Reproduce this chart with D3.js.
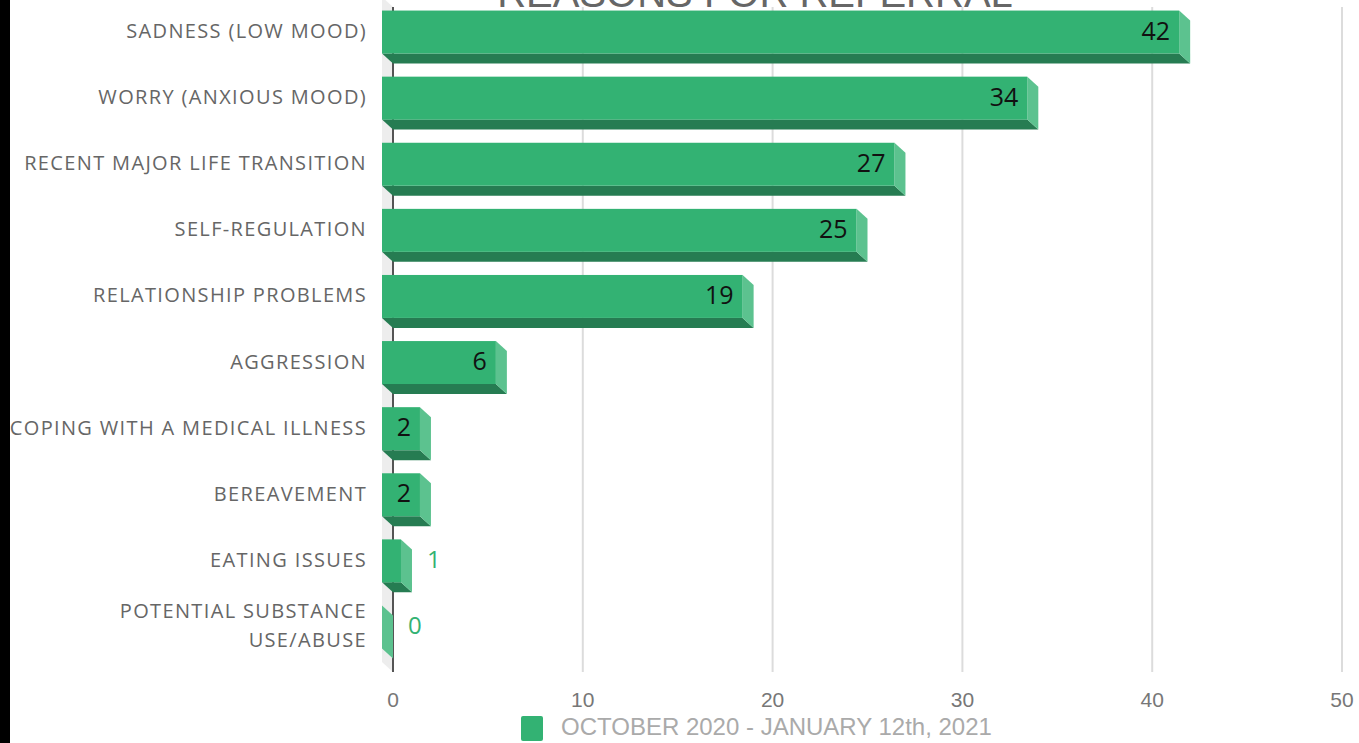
<!DOCTYPE html>
<html><head><meta charset="utf-8">
<script src="https://cdn.jsdelivr.net/npm/d3@7"></script>
<style>html,body{margin:0;padding:0;background:#fff;overflow:hidden}</style>
</head><body>
<svg id="chart" width="1359" height="743"></svg>
<script>
const categories = ["SADNESS (LOW MOOD)","WORRY (ANXIOUS MOOD)","RECENT MAJOR LIFE TRANSITION","SELF-REGULATION","RELATIONSHIP PROBLEMS","AGGRESSION","COPING WITH A MEDICAL ILLNESS","BEREAVEMENT","EATING ISSUES","POTENTIAL SUBSTANCE USE/ABUSE"];
const values = [42,34,27,25,19,6,2,2,1,0];
const xTicks = [0,10,20,30,40,50];
const seriesName = "OCTOBER 2020 - JANUARY 12th, 2021";
const title = "REASONS FOR REFERRAL";

const svg = d3.select("#chart");
const W = 1359, H = 743;
const DX = 11, DY = 10;
const cFront = "#33b273", cBottom = "#267c52", cSide = "#5cc28f";

svg.append("rect").attr("x",0).attr("y",0).attr("width",10).attr("height",H).attr("fill","#000");

const x = d3.scaleLinear().domain([0,50]).range([393,1342]);
const y = d3.scaleBand().domain(categories).range([7,672]).paddingInner(0.35).paddingOuter(0.205);
const top0 = 7, bot0 = 672;

// wall
svg.append("polygon")
  .attr("points",[[x(0),top0],[x(0),bot0],[x(0)-DX,bot0-DY],[x(0)-DX,top0-DY]].map(p=>p.join(",")).join(" "))
  .attr("fill","#ededed");

// gridlines
svg.append("g").selectAll("line").data(xTicks.filter(d=>d>0)).join("line")
  .attr("x1",d=>x(d)).attr("x2",d=>x(d)).attr("y1",top0).attr("y2",bot0)
  .attr("stroke","#dcdcdc").attr("stroke-width",2);

// axis line
svg.append("line").attr("x1",x(0)).attr("x2",x(0)).attr("y1",top0).attr("y2",bot0)
  .attr("stroke","#555").attr("stroke-width",2);

// tick labels
svg.append("g").selectAll("text").data(xTicks).join("text")
  .attr("x",d=>x(d)).attr("y",701).attr("text-anchor","middle").attr("dominant-baseline","middle")
  .attr("font-family","Liberation Sans, Arial, sans-serif").attr("font-size",21).attr("fill","#777")
  .text(d=>d);

// bars
const g = svg.append("g");
categories.forEach((c,i)=>{
  const v = values[i];
  const bt = y(c), bb = y(c)+y.bandwidth();
  const ft = bt-DY, fb = bb-DY;
  const xl = x(0)-DX, xr = x(v)-DX;
  const P = pts=>pts.map(p=>p.join(",")).join(" ");
  if (v>0) g.append("polygon").attr("points",P([[xl,fb],[xr,fb],[xr+DX,fb+DY],[x(0),fb+DY]])).attr("fill",cBottom);
  g.append("polygon").attr("points",P([[xr,ft],[xr+DX,ft+DY],[xr+DX,fb+DY],[xr,fb]])).attr("fill",cSide);
  if (v>0) g.append("rect").attr("x",xl).attr("y",ft).attr("width",xr-xl).attr("height",fb-ft).attr("fill",cFront);
  const cy = (ft+fb)/2;
  if (v>=2) {
    g.append("text").attr("x",xr-9).attr("y",cy+1).attr("text-anchor","end").attr("dominant-baseline","middle")
      .attr("font-family","Open Sans, sans-serif").attr("font-size",25).attr("fill","#111").text(v);
  } else {
    g.append("text").attr("x",x(v)+15).attr("y",cy+1).attr("text-anchor","start").attr("dominant-baseline","middle")
      .attr("font-family","Open Sans, sans-serif").attr("font-size",24).attr("fill",cFront).text(v);
  }
  const lines = c==="POTENTIAL SUBSTANCE USE/ABUSE" ? ["POTENTIAL SUBSTANCE","USE/ABUSE"] : [c];
  const t = svg.append("text").attr("text-anchor","end").attr("font-family","Open Sans, sans-serif")
    .attr("font-size",20).attr("letter-spacing","1.35px").attr("fill","#666").attr("dominant-baseline","middle");
  lines.forEach((l,k)=>{
    t.append("tspan").attr("x",367).attr("y",cy + 1 + (k-(lines.length-1)/2)*29).text(l);
  });
});

// title
svg.append("text").attr("x",755).attr("y",7).attr("text-anchor","middle")
  .attr("font-family","Liberation Sans, Arial, sans-serif").attr("font-size",40).attr("fill","#666").text(title);

// legend
svg.append("rect").attr("x",521).attr("y",716).attr("width",22).attr("height",25).attr("rx",2).attr("fill",cFront);
svg.append("text").attr("x",561).attr("y",729).attr("dominant-baseline","middle")
  .attr("font-family","Liberation Sans, Arial, sans-serif").attr("font-size",24).attr("fill","#aaa").text(seriesName);
</script>
</body></html>
